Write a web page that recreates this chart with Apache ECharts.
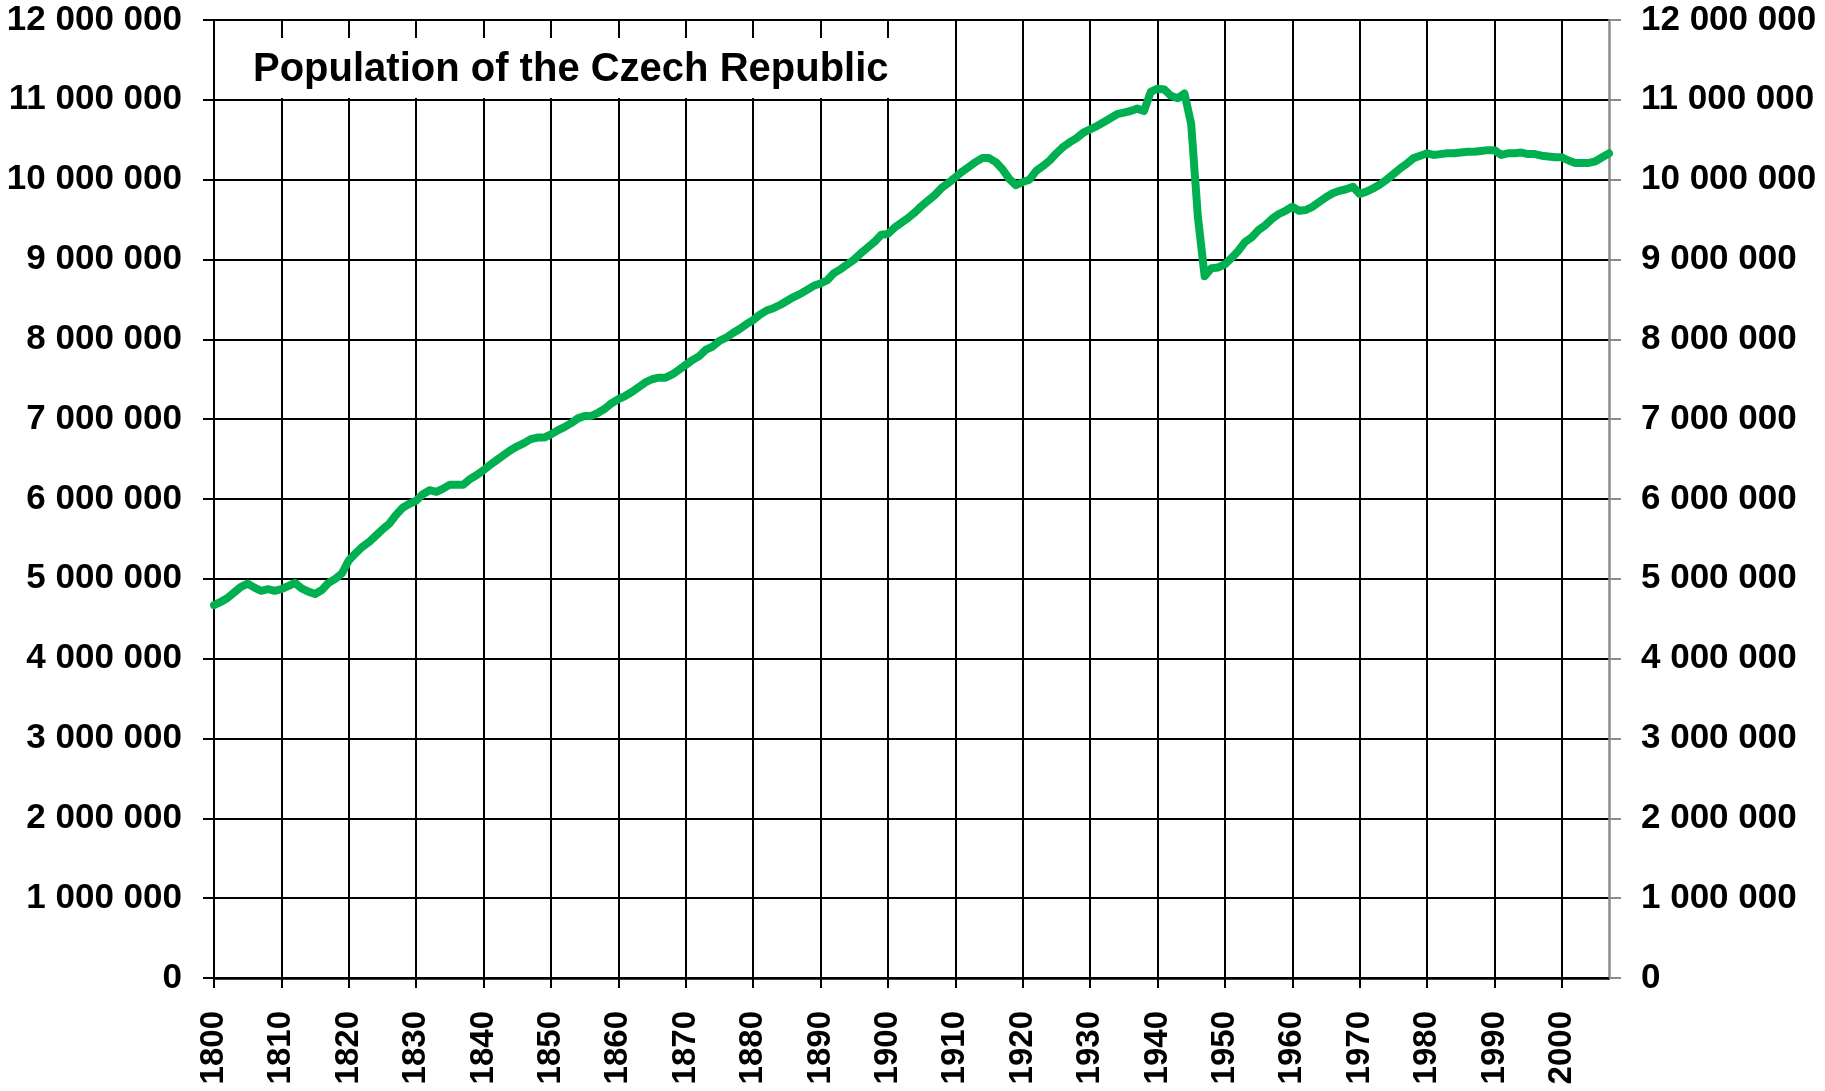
<!DOCTYPE html>
<html>
<head>
<meta charset="utf-8">
<title>Population of the Czech Republic</title>
<script src="https://cdn.jsdelivr.net/npm/echarts@6/dist/echarts.min.js"></script>
<style>
  html, body { margin: 0; padding: 0; background: #fff; }
  #chart { width: 1825px; height: 1091px; }
</style>
</head>
<body>
<div id="chart"></div>
<script>
// Yearly population estimates, Czech lands, 1800-2007.
const years = [
  1800, 1801, 1802, 1803, 1804, 1805, 1806, 1807, 1808, 1809,
  1810, 1811, 1812, 1813, 1814, 1815, 1816, 1817, 1818, 1819,
  1820, 1821, 1822, 1823, 1824, 1825, 1826, 1827, 1828, 1829,
  1830, 1831, 1832, 1833, 1834, 1835, 1836, 1837, 1838, 1839,
  1840, 1841, 1842, 1843, 1844, 1845, 1846, 1847, 1848, 1849,
  1850, 1851, 1852, 1853, 1854, 1855, 1856, 1857, 1858, 1859,
  1860, 1861, 1862, 1863, 1864, 1865, 1866, 1867, 1868, 1869,
  1870, 1871, 1872, 1873, 1874, 1875, 1876, 1877, 1878, 1879,
  1880, 1881, 1882, 1883, 1884, 1885, 1886, 1887, 1888, 1889,
  1890, 1891, 1892, 1893, 1894, 1895, 1896, 1897, 1898, 1899,
  1900, 1901, 1902, 1903, 1904, 1905, 1906, 1907, 1908, 1909,
  1910, 1911, 1912, 1913, 1914, 1915, 1916, 1917, 1918, 1919,
  1920, 1921, 1922, 1923, 1924, 1925, 1926, 1927, 1928, 1929,
  1930, 1931, 1932, 1933, 1934, 1935, 1936, 1937, 1938, 1939,
  1940, 1941, 1942, 1943, 1944, 1945, 1946, 1947, 1948, 1949,
  1950, 1951, 1952, 1953, 1954, 1955, 1956, 1957, 1958, 1959,
  1960, 1961, 1962, 1963, 1964, 1965, 1966, 1967, 1968, 1969,
  1970, 1971, 1972, 1973, 1974, 1975, 1976, 1977, 1978, 1979,
  1980, 1981, 1982, 1983, 1984, 1985, 1986, 1987, 1988, 1989,
  1990, 1991, 1992, 1993, 1994, 1995, 1996, 1997, 1998, 1999,
  2000, 2001, 2002, 2003, 2004, 2005, 2006, 2007
];

const population = [
  4670000, 4710000, 4760000, 4830000, 4900000, 4940000, 4890000, 4850000, 4870000, 4850000,
  4870000, 4910000, 4950000, 4880000, 4840000, 4810000, 4860000, 4950000, 5000000, 5070000,
  5230000, 5320000, 5400000, 5460000, 5540000, 5620000, 5690000, 5800000, 5890000, 5940000,
  5980000, 6060000, 6110000, 6090000, 6130000, 6180000, 6180000, 6180000, 6250000, 6300000,
  6360000, 6430000, 6490000, 6550000, 6610000, 6660000, 6700000, 6750000, 6770000, 6770000,
  6810000, 6860000, 6900000, 6950000, 7010000, 7040000, 7040000, 7080000, 7130000, 7200000,
  7250000, 7290000, 7340000, 7400000, 7460000, 7500000, 7520000, 7520000, 7560000, 7620000,
  7680000, 7740000, 7790000, 7870000, 7910000, 7980000, 8020000, 8080000, 8130000, 8190000,
  8240000, 8310000, 8360000, 8390000, 8430000, 8480000, 8530000, 8570000, 8620000, 8670000,
  8700000, 8740000, 8830000, 8880000, 8940000, 9000000, 9080000, 9150000, 9220000, 9310000,
  9320000, 9400000, 9460000, 9520000, 9590000, 9670000, 9740000, 9810000, 9900000, 9960000,
  10030000, 10100000, 10160000, 10220000, 10270000, 10270000, 10220000, 10130000, 10010000, 9930000,
  9970000, 10000000, 10110000, 10170000, 10240000, 10330000, 10410000, 10470000, 10520000, 10590000,
  10630000, 10670000, 10720000, 10770000, 10820000, 10840000, 10860000, 10890000, 10860000, 11100000,
  11140000, 11130000, 11050000, 11020000, 11080000, 10700000, 9530000, 8790000, 8890000, 8900000,
  8940000, 9020000, 9110000, 9220000, 9280000, 9370000, 9430000, 9510000, 9570000, 9610000,
  9660000, 9610000, 9620000, 9660000, 9720000, 9780000, 9830000, 9860000, 9880000, 9910000,
  9820000, 9850000, 9890000, 9940000, 10000000, 10070000, 10140000, 10200000, 10270000, 10300000,
  10330000, 10310000, 10320000, 10330000, 10330000, 10340000, 10350000, 10350000, 10360000, 10370000,
  10370000, 10310000, 10330000, 10330000, 10340000, 10320000, 10320000, 10300000, 10290000, 10280000,
  10280000, 10240000, 10210000, 10210000, 10210000, 10230000, 10280000, 10330000
];

const titleText = "Population of the Czech Republic";

const FONT = "'Liberation Sans', Arial, sans-serif";

// "12000000" -> "12 000 000"
function spaced(v) {
  return String(v).replace(/\B(?=(\d{3})+(?!\d))/g, " ");
}

const isDecade = (idx) => years[idx] % 10 === 0;

const labelStyle = {
  color: "#000",
  fontFamily: FONT,
  fontWeight: "bold",
  fontSize: 35,
};

const chart = echarts.init(document.getElementById("chart"), null, { renderer: "canvas" });

chart.setOption({
  animation: false,
  backgroundColor: "#fff",
  title: {
    text: titleText,
    left: 243,
    top: 38,
    padding: [12, 10, 8, 10],
    backgroundColor: "#fff",
    textStyle: {
      color: "#000",
      fontFamily: FONT,
      fontWeight: "bold",
      fontSize: 40,
    },
  },
  grid: { left: 214, right: 216, top: 20, bottom: 113, containLabel: false },
  xAxis: {
    type: "category",
    data: years,
    boundaryGap: false,
    axisLine: { lineStyle: { color: "#000", width: 2.5 } },
    axisTick: {
      show: true,
      length: 10,
      interval: (idx) => isDecade(idx),
      lineStyle: { color: "#000", width: 2 },
    },
    axisLabel: {
      ...labelStyle,
      fontSize: 33,
      rotate: 90,
      margin: 33,
      interval: (idx) => isDecade(idx),
    },
    splitLine: {
      show: true,
      interval: (idx) => isDecade(idx),
      lineStyle: { color: "#000", width: 2 },
    },
  },
  yAxis: [
    {
      type: "value",
      position: "left",
      min: 0,
      max: 12000000,
      interval: 1000000,
      axisLine: { show: true, lineStyle: { color: "#000", width: 2 } },
      axisTick: { show: true, length: 11, lineStyle: { color: "#000", width: 2 } },
      axisLabel: { ...labelStyle, margin: 32, formatter: spaced },
      splitLine: { show: true, lineStyle: { color: "#000", width: 2 } },
    },
    {
      type: "value",
      position: "right",
      min: 0,
      max: 12000000,
      interval: 1000000,
      axisLine: { show: true, lineStyle: { color: "#8c8c8c", width: 2.5 } },
      axisTick: { show: true, length: 12, lineStyle: { color: "#8c8c8c", width: 2 } },
      axisLabel: { ...labelStyle, margin: 32, formatter: spaced },
      splitLine: { show: false },
    },
  ],
  series: [
    {
      type: "line",
      data: population,
      yAxisIndex: 0,
      showSymbol: false,
      symbol: "none",
      smooth: false,
      lineStyle: { color: "#00b050", width: 8, join: "round", cap: "round" },
      z: 5,
    },
  ],
});
</script>
</body>
</html>
